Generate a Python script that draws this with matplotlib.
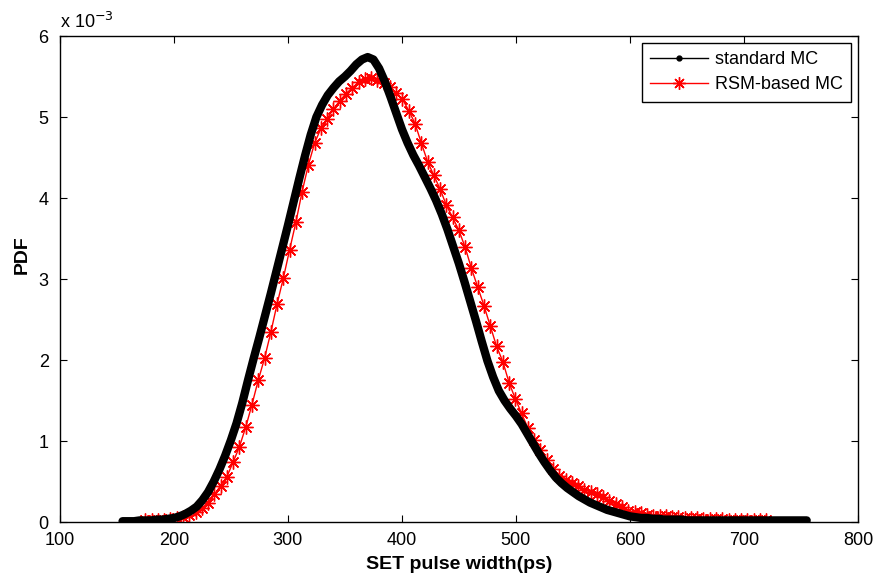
import numpy as np
import matplotlib
matplotlib.use("Agg")
import matplotlib.pyplot as plt
from matplotlib.lines import Line2D

plt.rcParams['font.family'] = ['Liberation Sans', 'DejaVu Sans']

# PDF values in units of 1e-3
std_x = np.arange(155, 760, 5)
std_pdf = [0.01, 0.01, 0.01, 0.02, 0.02, 0.02, 0.03, 0.03, 0.04, 0.05,
           0.07, 0.10, 0.14, 0.19, 0.27, 0.37, 0.50, 0.65, 0.82, 1.01,
           1.22, 1.47, 1.75, 2.02, 2.28, 2.55, 2.82, 3.10, 3.38, 3.66,
           3.95, 4.24, 4.52, 4.78, 5.00, 5.15, 5.27, 5.36, 5.44, 5.50,
           5.57, 5.65, 5.71, 5.74, 5.71, 5.60, 5.44, 5.25, 5.05, 4.85,
           4.68, 4.53, 4.40, 4.26, 4.12, 3.97, 3.80, 3.61, 3.40, 3.19,
           2.96, 2.72, 2.48, 2.23, 1.99, 1.79, 1.62, 1.50, 1.40, 1.31,
           1.21, 1.09, 0.97, 0.85, 0.74, 0.64, 0.55, 0.48, 0.42, 0.37,
           0.32, 0.28, 0.24, 0.21, 0.18, 0.15, 0.13, 0.11, 0.09, 0.07,
           0.06, 0.05, 0.05, 0.04, 0.04, 0.03, 0.03, 0.03, 0.03, 0.02,
           0.02, 0.02, 0.02, 0.02, 0.02, 0.02, 0.02, 0.02, 0.02, 0.02,
           0.02, 0.02, 0.02, 0.02, 0.02, 0.02, 0.02, 0.02, 0.02, 0.02,
           0.02]

rsm_x = np.arange(100) * 5.5 + 175
rsm_pdf = [0.02, 0.02, 0.03, 0.03, 0.04, 0.05, 0.06, 0.09, 0.12, 0.17,
           0.24, 0.34, 0.45, 0.56, 0.74, 0.93, 1.17, 1.45, 1.75, 2.02,
           2.34, 2.69, 3.01, 3.36, 3.70, 4.08, 4.41, 4.68, 4.86, 4.98,
           5.10, 5.20, 5.29, 5.36, 5.43, 5.47, 5.48, 5.46, 5.42, 5.37,
           5.30, 5.22, 5.08, 4.92, 4.68, 4.45, 4.28, 4.11, 3.91, 3.76,
           3.60, 3.39, 3.13, 2.90, 2.67, 2.42, 2.17, 1.98, 1.72, 1.52,
           1.34, 1.16, 1.01, 0.89, 0.77, 0.66, 0.57, 0.52, 0.48, 0.44,
           0.40, 0.37, 0.34, 0.31, 0.26, 0.22, 0.18, 0.14, 0.12, 0.11,
           0.09, 0.08, 0.07, 0.07, 0.06, 0.06, 0.05, 0.05, 0.05, 0.04,
           0.04, 0.04, 0.04, 0.03, 0.03, 0.03, 0.03, 0.03, 0.02, 0.02]

asterisk = (8, 2, 0)

fig = plt.figure(figsize=(8.8, 5.81), dpi=100)
ax = fig.add_axes([0.068, 0.1015, 0.907, 0.8365])

ax.plot(rsm_x, rsm_pdf, color='red', lw=1, marker=asterisk, markersize=10,
        markeredgewidth=1)
ax.plot(std_x, std_pdf, color='black', lw=6, solid_capstyle='round',
        solid_joinstyle='round')

ax.set_xlim(100, 800)
ax.set_ylim(0, 6)
ax.set_xticks(range(100, 801, 100))
ax.set_yticks(range(0, 7))
ax.tick_params(direction='in', top=True, right=True, length=5, labelsize=13)
ax.tick_params(axis='x', pad=7)
ax.tick_params(axis='y', pad=8)
for s in ax.spines.values():
    s.set_linewidth(1)

ax.set_xlabel('SET pulse width(ps)', fontsize=14, fontweight='bold', labelpad=5)
ax.set_ylabel('PDF', fontsize=14, fontweight='bold')
ax.yaxis.set_label_coords(-0.036, 0.55)
ax.text(0.0, 1.008, r'x 10$^{-3}$', transform=ax.transAxes, fontsize=13,
        ha='left', va='bottom')

handles = [Line2D([], [], color='black', lw=1, marker='.', markersize=7),
           Line2D([], [], color='red', lw=1, marker=asterisk, markersize=9)]
leg = ax.legend(handles, ['standard MC', 'RSM-based MC'], loc='upper right',
                fontsize=13, fancybox=False, framealpha=1, edgecolor='black',
                borderaxespad=0.4, handlelength=3.2, borderpad=0.45,
                labelspacing=0.45, handletextpad=0.4)
leg.get_frame().set_linewidth(1)

fig.savefig('out.png', dpi=100)
